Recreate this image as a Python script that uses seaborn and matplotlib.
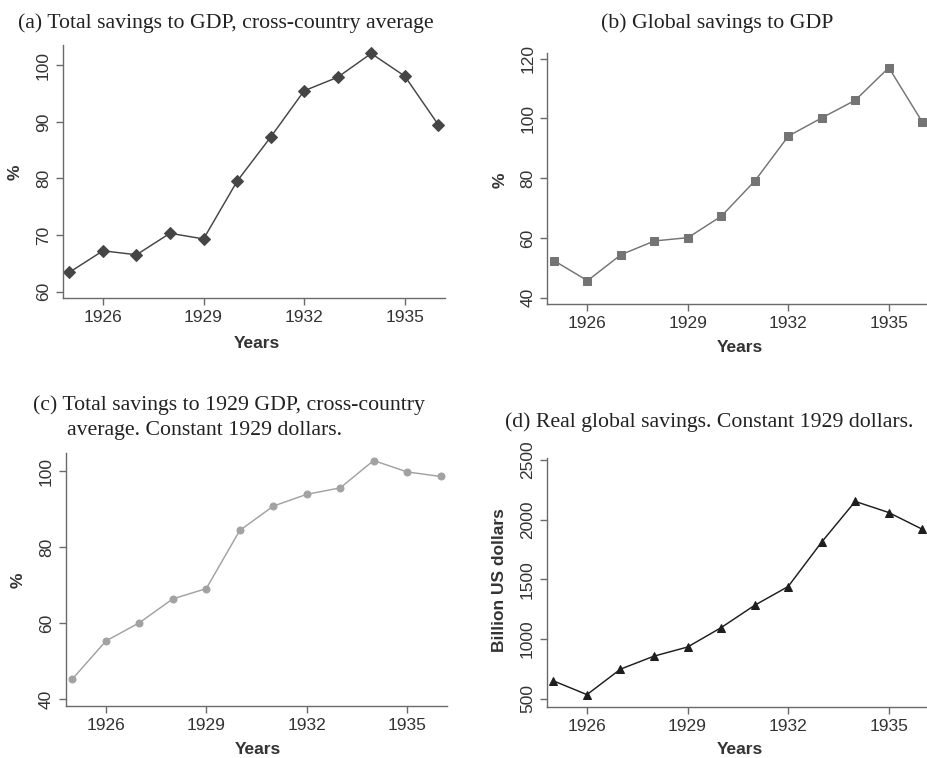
import matplotlib
matplotlib.use("Agg")
import matplotlib.pyplot as plt
import seaborn as sns
import pandas as pd

years = [1925, 1926, 1927, 1928, 1929, 1930, 1931, 1932, 1933, 1934, 1935, 1936]

# (a) Total savings to GDP, cross-country average (%)
savings_gdp_avg = [63.4, 67.2, 66.5, 70.3, 69.3, 79.5, 87.3, 95.5, 97.9, 102.1, 98.1, 89.5]
# (b) Global savings to GDP (%)
global_savings_gdp = [52.4, 45.7, 54.4, 59.0, 60.1, 67.3, 79.1, 94.1, 100.2, 106.1, 117.0, 98.8]
# (c) Total savings to 1929 GDP, cross-country average, constant 1929 dollars (%)
savings_1929_gdp = [45.3, 55.3, 60.1, 66.4, 69.1, 84.4, 90.8, 93.9, 95.6, 102.8, 99.8, 98.6]
# (d) Real global savings, constant 1929 dollars (billion US$)
real_global_savings = [651, 536, 749, 858, 934, 1096, 1283, 1440, 1812, 2152, 2059, 1919]

xticks = [1926, 1929, 1932, 1935]

sns.set_theme(style="ticks")
plt.rcParams["font.family"] = ["Liberation Sans", "DejaVu Sans"]

W, H = 927, 758
fig = plt.figure(figsize=(W / 100, H / 100), dpi=100)


def box(left, right, top, bottom):
    return [left / W, 1 - bottom / H, (right - left) / W, (bottom - top) / H]


panels = [
    dict(vals=savings_gdp_avg, rect=box(62.7, 445, 45, 298.3), ylim=(58.8, 103.6),
         yticks=[60, 70, 80, 90, 100], color="#454545", marker="D", ms=6.5),
    dict(vals=global_savings_gdp, rect=box(547.3, 929, 52.7, 304.3), ylim=(37.8, 122),
         yticks=[40, 60, 80, 100, 120], color="#747474", marker="s", ms=5.5),
    dict(vals=savings_1929_gdp, rect=box(65.7, 447.3, 453.3, 706), ylim=(38.2, 104.7),
         yticks=[40, 60, 80, 100], color="#a2a2a2", marker="o", ms=5),
    dict(vals=real_global_savings, rect=box(546.7, 929, 458, 706.7), ylim=(435, 2515),
         yticks=[500, 1000, 1500, 2000, 2500], color="#1e1e1e", marker="^", ms=6),
]

for p in panels:
    ax = fig.add_axes(p["rect"])
    df = pd.DataFrame({"year": years, "value": p["vals"]})
    sns.lineplot(data=df, x="year", y="value", ax=ax, color=p["color"],
                 marker=p["marker"], markersize=p["ms"], markeredgecolor=p["color"],
                 linewidth=1.05)
    ax.set_xlim(1924.8, 1936.2)
    ax.set_ylim(*p["ylim"])
    ax.set_xticks(xticks)
    ax.set_xticklabels([str(t) for t in xticks])
    ax.set_yticks(p["yticks"])
    ax.set_yticklabels([str(t) for t in p["yticks"]], rotation=90, va="center")
    ax.set_xlabel("")
    ax.set_ylabel("")
    sns.despine(ax=ax)
    for s in ("left", "bottom"):
        ax.spines[s].set_color("#6a6a6a")
        ax.spines[s].set_linewidth(1.0)
    ax.tick_params(axis="both", colors="#6a6a6a", labelcolor="#333333",
                   labelsize=12.5, length=5, width=1.0)

# axis labels
label_kw = dict(fontsize=12.5, fontweight="bold", color="#333333")
fig.text(15 / W, 1 - 172 / H, "%", rotation=90, ha="center", va="center", **label_kw)
fig.text(500 / W, 1 - 180 / H, "%", rotation=90, ha="center", va="center", **label_kw)
fig.text(18 / W, 1 - 580 / H, "%", rotation=90, ha="center", va="center", **label_kw)
fig.text(499 / W, 1 - 580 / H, "Billion US dollars", rotation=90, ha="center",
         va="center", **label_kw)
fig.text(257 / W, 1 - 343 / H, "Years", ha="center", va="center", **label_kw)
fig.text(740 / W, 1 - 348 / H, "Years", ha="center", va="center", **label_kw)
fig.text(258 / W, 1 - 749 / H, "Years", ha="center", va="center", **label_kw)
fig.text(740 / W, 1 - 749 / H, "Years", ha="center", va="center", **label_kw)

# panel titles
title_kw = dict(fontsize=15.7, family=["Liberation Serif", "DejaVu Serif"], color="#222222")
fig.text(18 / W, 1 - 23 / H, "(a) Total savings to GDP, cross-country average",
         ha="left", va="center", **title_kw)
fig.text(717 / W, 1 - 23 / H, "(b) Global savings to GDP", ha="center", va="center",
         **title_kw)
fig.text(33 / W, 1 - 405 / H, "(c) Total savings to 1929 GDP, cross-country",
         ha="left", va="center", **title_kw)
fig.text(67 / W, 1 - 430 / H, "average. Constant 1929 dollars.", ha="left",
         va="center", **title_kw)
fig.text(709 / W, 1 - 422 / H, "(d) Real global savings. Constant 1929 dollars.",
         ha="center", va="center", **title_kw)

fig.savefig("out.png", dpi=100)
